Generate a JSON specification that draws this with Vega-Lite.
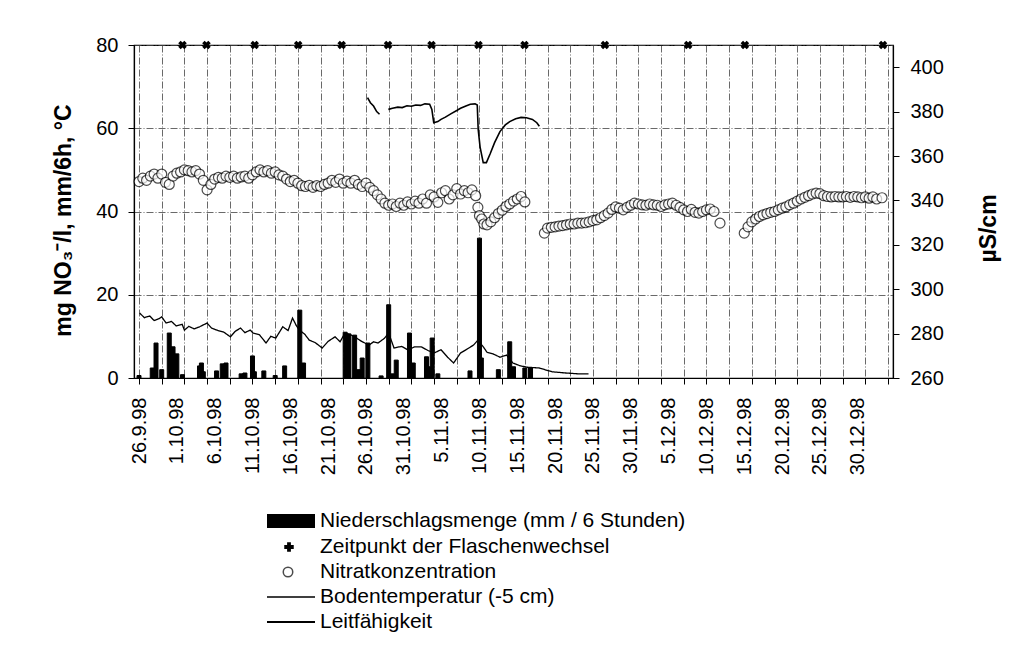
{
"$schema": "https://vega.github.io/schema/vega-lite/v6.json",
"width": 759, "height": 333,
"autosize": {"type": "none"},
"padding": {"left": 134, "top": 45, "right": 119, "bottom": 270},
"background": "white",
"config": {
 "view": {"stroke": "black", "strokeWidth": 1.2},
 "font": "Liberation Sans",
 "axis": {"labelFont": "Liberation Sans", "titleFont": "Liberation Sans", "labelColor": "black", "titleColor": "black", "domainColor": "black", "tickColor": "black", "labelFontSize": 20, "titleFontSize": 23, "titleFontWeight": "bold"},
 "legend": {"labelFont": "Liberation Sans", "labelFontSize": 21, "labelColor": "black", "labelLimit": 0, "padding": 0, "orient": "none", "direction": "vertical"}
},
"datasets": {
 "bars": [
  {"t":"1998-09-26T00:00","v":0.6},{"t":"1998-09-27T18:00","v":2.4},{"t":"1998-09-28T06:00","v":8.4},{"t":"1998-09-29T00:00","v":2.0},
  {"t":"1998-09-30T00:00","v":10.8},{"t":"1998-09-30T12:00","v":7.5},{"t":"1998-10-01T00:00","v":5.8},{"t":"1998-10-01T18:00","v":0.8},
  {"t":"1998-10-04T00:00","v":2.9},{"t":"1998-10-04T06:00","v":3.6},{"t":"1998-10-04T12:00","v":1.5},{"t":"1998-10-06T06:00","v":1.7},
  {"t":"1998-10-07T00:00","v":3.4},{"t":"1998-10-07T12:00","v":3.6},{"t":"1998-10-09T12:00","v":1.0},{"t":"1998-10-10T00:00","v":1.2},
  {"t":"1998-10-11T00:00","v":5.3},{"t":"1998-10-11T06:00","v":1.5},{"t":"1998-10-12T12:00","v":1.7},{"t":"1998-10-14T00:00","v":0.6},
  {"t":"1998-10-15T06:00","v":2.9},{"t":"1998-10-17T06:00","v":16.3},{"t":"1998-10-17T18:00","v":3.6},{"t":"1998-10-23T06:00","v":11.0},
  {"t":"1998-10-23T18:00","v":10.6},{"t":"1998-10-24T12:00","v":10.3},{"t":"1998-10-25T00:00","v":2.0},{"t":"1998-10-25T12:00","v":4.8},
  {"t":"1998-10-26T06:00","v":8.4},{"t":"1998-10-28T00:00","v":0.5},{"t":"1998-10-29T00:00","v":17.6},{"t":"1998-10-29T12:00","v":1.0},
  {"t":"1998-10-30T00:00","v":4.3},{"t":"1998-10-31T18:00","v":10.8},{"t":"1998-11-01T06:00","v":3.6},{"t":"1998-11-03T00:00","v":5.1},
  {"t":"1998-11-03T06:00","v":2.7},{"t":"1998-11-03T18:00","v":9.6},{"t":"1998-11-04T12:00","v":1.0},{"t":"1998-11-08T18:00","v":1.7},
  {"t":"1998-11-10T00:00","v":33.6},{"t":"1998-11-10T06:00","v":4.8},{"t":"1998-11-12T12:00","v":2.0},{"t":"1998-11-14T00:00","v":8.7},
  {"t":"1998-11-14T12:00","v":2.7},{"t":"1998-11-16T00:00","v":2.4},{"t":"1998-11-16T18:00","v":2.4}
 ],
 "wechsel": [
  {"t":"1998-10-01T18:00"},{"t":"1998-10-04T22:00"},{"t":"1998-10-11T07:00"},{"t":"1998-10-17T01:00"},{"t":"1998-10-22T19:00"},
  {"t":"1998-10-28T22:00"},{"t":"1998-11-03T16:00"},{"t":"1998-11-09T21:00"},{"t":"1998-11-15T23:00"},{"t":"1998-11-26T14:00"},
  {"t":"1998-12-07T14:00"},{"t":"1998-12-15T02:00"},{"t":"1999-01-02T08:00"}
 ],
 "temp": [
  {"t":"1998-09-26T02:00","v":15.6},{"t":"1998-09-26T17:00","v":14.5},{"t":"1998-09-27T10:00","v":14.9},{"t":"1998-09-28T00:00","v":13.8},
  {"t":"1998-09-28T17:00","v":14.3},{"t":"1998-09-29T00:00","v":14.7},{"t":"1998-09-29T14:00","v":13.2},{"t":"1998-09-30T07:00","v":13.6},
  {"t":"1998-09-30T22:00","v":12.5},{"t":"1998-10-01T17:00","v":12.9},{"t":"1998-10-02T00:00","v":11.5},{"t":"1998-10-02T14:00","v":12.4},
  {"t":"1998-10-03T07:00","v":11.8},{"t":"1998-10-04T00:00","v":12.3},{"t":"1998-10-05T00:00","v":13.2},{"t":"1998-10-05T14:00","v":12.0},
  {"t":"1998-10-06T07:00","v":11.5},{"t":"1998-10-07T05:00","v":11.0},{"t":"1998-10-08T02:00","v":9.9},{"t":"1998-10-08T17:00","v":11.2},
  {"t":"1998-10-09T10:00","v":12.0},{"t":"1998-10-10T00:00","v":10.9},{"t":"1998-10-10T17:00","v":11.5},{"t":"1998-10-11T02:00","v":10.8},
  {"t":"1998-10-11T22:00","v":10.4},{"t":"1998-10-12T19:00","v":8.4},{"t":"1998-10-13T10:00","v":10.0},{"t":"1998-10-14T02:00","v":9.6},
  {"t":"1998-10-15T00:00","v":12.3},{"t":"1998-10-15T17:00","v":11.4},{"t":"1998-10-16T07:00","v":14.4},{"t":"1998-10-16T19:00","v":12.6},
  {"t":"1998-10-17T05:00","v":11.5},{"t":"1998-10-17T22:00","v":10.5},{"t":"1998-10-18T12:00","v":9.1},{"t":"1998-10-19T07:00","v":8.5},
  {"t":"1998-10-20T05:00","v":7.2},{"t":"1998-10-21T00:00","v":8.8},{"t":"1998-10-21T22:00","v":9.9},{"t":"1998-10-22T14:00","v":8.7},
  {"t":"1998-10-23T05:00","v":10.8},{"t":"1998-10-23T22:00","v":10.4},{"t":"1998-10-24T12:00","v":9.9},{"t":"1998-10-25T10:00","v":8.8},
  {"t":"1998-10-26T10:00","v":7.9},{"t":"1998-10-27T00:00","v":8.7},{"t":"1998-10-27T14:00","v":8.4},{"t":"1998-10-28T10:00","v":9.5},
  {"t":"1998-10-29T00:00","v":10.8},{"t":"1998-10-29T17:00","v":7.2},{"t":"1998-10-30T17:00","v":7.6},{"t":"1998-10-31T14:00","v":6.7},
  {"t":"1998-11-01T10:00","v":7.5},{"t":"1998-11-02T07:00","v":7.5},{"t":"1998-11-03T05:00","v":6.6},{"t":"1998-11-04T00:00","v":6.0},
  {"t":"1998-11-04T22:00","v":6.8},{"t":"1998-11-05T19:00","v":5.0},{"t":"1998-11-06T14:00","v":3.6},{"t":"1998-11-07T12:00","v":6.0},
  {"t":"1998-11-08T10:00","v":7.0},{"t":"1998-11-09T05:00","v":7.9},{"t":"1998-11-09T19:00","v":9.1},{"t":"1998-11-10T12:00","v":7.5},
  {"t":"1998-11-11T00:00","v":6.2},{"t":"1998-11-11T19:00","v":5.8},{"t":"1998-11-12T17:00","v":5.0},{"t":"1998-11-13T14:00","v":5.5},
  {"t":"1998-11-14T10:00","v":3.6},{"t":"1998-11-15T07:00","v":3.0},{"t":"1998-11-16T05:00","v":2.6},{"t":"1998-11-17T22:00","v":2.4},
  {"t":"1998-11-19T14:00","v":1.5},{"t":"1998-11-21T10:00","v":1.2},{"t":"1998-11-23T02:00","v":1.0},{"t":"1998-11-24T10:00","v":1.0}
 ],
 "leit": [
  {"t":"1998-10-26T05:00","v":386.3,"s":1},{"t":"1998-10-26T14:00","v":384,"s":1},{"t":"1998-10-27T00:00","v":382.5,"s":1},{"t":"1998-10-27T10:00","v":380,"s":1},{"t":"1998-10-27T19:00","v":378.8,"s":1},
  {"t":"1998-10-28T23:00","v":381,"s":2},{"t":"1998-10-29T12:00","v":381.5,"s":2},{"t":"1998-10-30T05:00","v":382,"s":2},{"t":"1998-10-30T19:00","v":381.8,"s":2},
  {"t":"1998-10-31T10:00","v":382.6,"s":2},{"t":"1998-11-01T00:00","v":382.4,"s":2},{"t":"1998-11-01T14:00","v":383,"s":2},{"t":"1998-11-02T05:00","v":382.8,"s":2},
  {"t":"1998-11-02T19:00","v":383.5,"s":2},{"t":"1998-11-03T10:00","v":383.3,"s":2},{"t":"1998-11-03T17:00","v":381,"s":2},{"t":"1998-11-03T23:00","v":375,"s":2},
  {"t":"1998-11-04T12:00","v":375.5,"s":2},{"t":"1998-11-04T22:00","v":376.5,"s":2},{"t":"1998-11-05T12:00","v":377.5,"s":2},{"t":"1998-11-06T05:00","v":379,"s":2},
  {"t":"1998-11-07T00:00","v":380.5,"s":2},{"t":"1998-11-07T12:00","v":381.5,"s":2},{"t":"1998-11-08T05:00","v":382.5,"s":2},{"t":"1998-11-08T19:00","v":383.3,"s":2},
  {"t":"1998-11-09T10:00","v":383.5,"s":2},{"t":"1998-11-09T17:00","v":383,"s":2},{"t":"1998-11-09T20:00","v":372,"s":2},{"t":"1998-11-10T02:00","v":364,"s":2},
  {"t":"1998-11-10T12:00","v":357,"s":2},{"t":"1998-11-10T22:00","v":357,"s":2},{"t":"1998-11-11T10:00","v":361,"s":2},{"t":"1998-11-12T00:00","v":366,"s":2},
  {"t":"1998-11-12T17:00","v":371,"s":2},{"t":"1998-11-13T10:00","v":374,"s":2},{"t":"1998-11-14T00:00","v":375.5,"s":2},{"t":"1998-11-14T19:00","v":376.8,"s":2},
  {"t":"1998-11-15T12:00","v":377.4,"s":2},{"t":"1998-11-16T05:00","v":377.2,"s":2},{"t":"1998-11-17T00:00","v":376.5,"s":2},{"t":"1998-11-17T14:00","v":375,"s":2},
  {"t":"1998-11-17T22:00","v":373.4,"s":2}
 ],
 "nitrat": [
  {"t":"1998-09-26T00:00","v":47.2},{"t":"1998-09-26T12:00","v":48},{"t":"1998-09-27T00:00","v":47.5},{"t":"1998-09-27T12:00","v":48.5},
  {"t":"1998-09-28T00:00","v":49},{"t":"1998-09-28T12:00","v":48},{"t":"1998-09-29T00:00","v":49},{"t":"1998-09-29T12:00","v":47},
  {"t":"1998-09-30T00:00","v":46.5},{"t":"1998-09-30T12:00","v":48.5},{"t":"1998-10-01T00:00","v":49.2},{"t":"1998-10-01T12:00","v":49.5},
  {"t":"1998-10-02T00:00","v":50},{"t":"1998-10-02T12:00","v":49.8},{"t":"1998-10-03T00:00","v":49.5},{"t":"1998-10-03T12:00","v":49.8},
  {"t":"1998-10-04T00:00","v":49},{"t":"1998-10-04T12:00","v":47.5},{"t":"1998-10-05T00:00","v":45.2},{"t":"1998-10-05T12:00","v":46.5},
  {"t":"1998-10-06T00:00","v":47.8},{"t":"1998-10-06T12:00","v":48.2},{"t":"1998-10-07T00:00","v":48},{"t":"1998-10-07T12:00","v":48.5},
  {"t":"1998-10-08T00:00","v":48.2},{"t":"1998-10-08T12:00","v":48.5},{"t":"1998-10-09T00:00","v":48},{"t":"1998-10-09T12:00","v":48.3},
  {"t":"1998-10-10T00:00","v":48.5},{"t":"1998-10-10T12:00","v":48},{"t":"1998-10-11T00:00","v":48.8},{"t":"1998-10-11T12:00","v":49.5},
  {"t":"1998-10-12T00:00","v":50},{"t":"1998-10-12T12:00","v":49.5},{"t":"1998-10-13T00:00","v":49.8},{"t":"1998-10-13T12:00","v":49.2},
  {"t":"1998-10-14T00:00","v":49.5},{"t":"1998-10-14T12:00","v":48.8},{"t":"1998-10-15T00:00","v":48.5},{"t":"1998-10-15T12:00","v":47.8},
  {"t":"1998-10-16T00:00","v":47.2},{"t":"1998-10-16T12:00","v":47.5},{"t":"1998-10-17T00:00","v":46.8},{"t":"1998-10-17T12:00","v":46.2},
  {"t":"1998-10-18T00:00","v":46},{"t":"1998-10-18T12:00","v":46.3},{"t":"1998-10-19T00:00","v":45.8},{"t":"1998-10-19T12:00","v":46.2},
  {"t":"1998-10-20T00:00","v":46},{"t":"1998-10-20T12:00","v":46.5},{"t":"1998-10-21T00:00","v":46.8},{"t":"1998-10-21T12:00","v":47.5},
  {"t":"1998-10-22T00:00","v":47},{"t":"1998-10-22T12:00","v":47.8},{"t":"1998-10-23T00:00","v":46.8},{"t":"1998-10-23T12:00","v":47.3},
  {"t":"1998-10-24T00:00","v":46.8},{"t":"1998-10-24T12:00","v":47.5},{"t":"1998-10-25T00:00","v":46.5},{"t":"1998-10-25T12:00","v":46},
  {"t":"1998-10-26T00:00","v":46.8},{"t":"1998-10-26T12:00","v":45.8},{"t":"1998-10-27T00:00","v":45},{"t":"1998-10-27T12:00","v":44},
  {"t":"1998-10-28T00:00","v":43},{"t":"1998-10-28T12:00","v":42},{"t":"1998-10-29T00:00","v":41.5},{"t":"1998-10-29T12:00","v":41.8},
  {"t":"1998-10-30T00:00","v":41.2},{"t":"1998-10-30T12:00","v":42},{"t":"1998-10-31T00:00","v":41.5},{"t":"1998-10-31T12:00","v":42.3},
  {"t":"1998-11-01T00:00","v":41.8},{"t":"1998-11-01T12:00","v":42.5},{"t":"1998-11-02T00:00","v":42},{"t":"1998-11-02T12:00","v":43},
  {"t":"1998-11-03T00:00","v":42},{"t":"1998-11-03T12:00","v":44},{"t":"1998-11-04T00:00","v":43.5},{"t":"1998-11-04T12:00","v":42.2},
  {"t":"1998-11-05T00:00","v":44.5},{"t":"1998-11-05T12:00","v":45},{"t":"1998-11-06T00:00","v":43},{"t":"1998-11-06T12:00","v":44},
  {"t":"1998-11-07T00:00","v":45.5},{"t":"1998-11-07T12:00","v":44.2},{"t":"1998-11-08T00:00","v":45},{"t":"1998-11-08T12:00","v":44.5},
  {"t":"1998-11-09T00:00","v":45.2},{"t":"1998-11-09T12:00","v":43.8},{"t":"1998-11-09T19:00","v":41},{"t":"1998-11-10T00:00","v":39},
  {"t":"1998-11-10T07:00","v":38.2},{"t":"1998-11-10T14:00","v":37},{"t":"1998-11-11T00:00","v":36.8},{"t":"1998-11-11T12:00","v":37.5},
  {"t":"1998-11-12T00:00","v":38.5},{"t":"1998-11-12T12:00","v":39.5},{"t":"1998-11-13T00:00","v":40.3},{"t":"1998-11-13T12:00","v":41.2},
  {"t":"1998-11-14T00:00","v":41.8},{"t":"1998-11-14T12:00","v":42.5},{"t":"1998-11-15T00:00","v":43},{"t":"1998-11-15T12:00","v":43.6},
  {"t":"1998-11-16T00:00","v":42.3},
  {"t":"1998-11-18T14:00","v":34.8},{"t":"1998-11-19T00:00","v":36},{"t":"1998-11-19T12:00","v":36.2},{"t":"1998-11-20T00:00","v":36.3},
  {"t":"1998-11-20T12:00","v":36.5},{"t":"1998-11-21T00:00","v":36.6},{"t":"1998-11-21T12:00","v":36.8},{"t":"1998-11-22T00:00","v":37},
  {"t":"1998-11-22T12:00","v":37},{"t":"1998-11-23T00:00","v":37.2},{"t":"1998-11-23T12:00","v":37.2},{"t":"1998-11-24T00:00","v":37.3},
  {"t":"1998-11-24T12:00","v":37.5},{"t":"1998-11-25T00:00","v":37.8},{"t":"1998-11-25T12:00","v":38},{"t":"1998-11-26T00:00","v":38.5},
  {"t":"1998-11-26T12:00","v":39},{"t":"1998-11-27T00:00","v":39.6},{"t":"1998-11-27T12:00","v":40.5},{"t":"1998-11-28T00:00","v":41.1},
  {"t":"1998-11-28T12:00","v":40.8},{"t":"1998-11-29T00:00","v":40.4},{"t":"1998-11-29T12:00","v":41},{"t":"1998-11-30T00:00","v":41.5},
  {"t":"1998-11-30T12:00","v":42},{"t":"1998-12-01T00:00","v":41.8},{"t":"1998-12-01T12:00","v":41.6},{"t":"1998-12-02T00:00","v":41.5},
  {"t":"1998-12-02T12:00","v":41.8},{"t":"1998-12-03T00:00","v":41.6},{"t":"1998-12-03T12:00","v":41.5},{"t":"1998-12-04T00:00","v":41.2},
  {"t":"1998-12-04T12:00","v":41.6},{"t":"1998-12-05T00:00","v":41.8},{"t":"1998-12-05T12:00","v":42},{"t":"1998-12-06T00:00","v":41.5},
  {"t":"1998-12-06T12:00","v":41},{"t":"1998-12-07T00:00","v":40.4},{"t":"1998-12-07T12:00","v":40},{"t":"1998-12-08T00:00","v":40.5},
  {"t":"1998-12-08T12:00","v":39.8},{"t":"1998-12-09T00:00","v":39.6},{"t":"1998-12-09T12:00","v":40},{"t":"1998-12-10T00:00","v":40.4},
  {"t":"1998-12-10T12:00","v":40.6},{"t":"1998-12-11T00:00","v":40},{"t":"1998-12-11T19:00","v":37.2},
  {"t":"1998-12-15T00:00","v":34.8},{"t":"1998-12-15T12:00","v":36.3},{"t":"1998-12-16T00:00","v":37.5},{"t":"1998-12-16T12:00","v":38.2},
  {"t":"1998-12-17T00:00","v":38.8},{"t":"1998-12-17T12:00","v":39.2},{"t":"1998-12-18T00:00","v":39.5},{"t":"1998-12-18T12:00","v":39.8},
  {"t":"1998-12-19T00:00","v":40},{"t":"1998-12-19T12:00","v":40.4},{"t":"1998-12-20T00:00","v":40.8},{"t":"1998-12-20T12:00","v":41.1},
  {"t":"1998-12-21T00:00","v":41.6},{"t":"1998-12-21T12:00","v":42},{"t":"1998-12-22T00:00","v":42.5},{"t":"1998-12-22T12:00","v":43},
  {"t":"1998-12-23T00:00","v":43.4},{"t":"1998-12-23T12:00","v":43.8},{"t":"1998-12-24T00:00","v":44.2},{"t":"1998-12-24T12:00","v":44.4},
  {"t":"1998-12-25T00:00","v":44.3},{"t":"1998-12-25T12:00","v":43.8},{"t":"1998-12-26T00:00","v":43.6},{"t":"1998-12-26T12:00","v":43.5},
  {"t":"1998-12-27T00:00","v":43.6},{"t":"1998-12-27T12:00","v":43.5},{"t":"1998-12-28T00:00","v":43.5},{"t":"1998-12-28T12:00","v":43.6},
  {"t":"1998-12-29T00:00","v":43.4},{"t":"1998-12-29T12:00","v":43.6},{"t":"1998-12-30T00:00","v":43.5},{"t":"1998-12-30T12:00","v":43.3},
  {"t":"1998-12-31T00:00","v":43.5},{"t":"1998-12-31T12:00","v":43.2},{"t":"1999-01-01T00:00","v":43.5},{"t":"1999-01-01T12:00","v":43},
  {"t":"1999-01-02T05:00","v":43.3}
 ]
},
"layer": [
 {
  "data": {"name": "bars"},
  "mark": {"type": "bar", "color": "black", "size": 4},
  "encoding": {
   "x": {"field": "t", "type": "temporal", "scale": {"domain": ["1998-09-26T00:00", "1999-01-03T00:00"], "nice": false},
    "axis": {"orient": "bottom", "title": null, "labels": false, "ticks": true, "tickSize": 6, "tickWidth": 1, "domain": true, "domainWidth": 1.2,
     "grid": true, "gridColor": "#444", "gridDash": [7, 2, 1, 2], "gridWidth": 1, "gridOpacity": 0.8,
     "values": [{"year":1998,"month":9,"date":26},{"year":1998,"month":9,"date":29},{"year":1998,"month":10,"date":2},{"year":1998,"month":10,"date":5},{"year":1998,"month":10,"date":8},{"year":1998,"month":10,"date":11},{"year":1998,"month":10,"date":14},{"year":1998,"month":10,"date":17},{"year":1998,"month":10,"date":20},{"year":1998,"month":10,"date":23},{"year":1998,"month":10,"date":26},{"year":1998,"month":10,"date":29},{"year":1998,"month":11,"date":1},{"year":1998,"month":11,"date":4},{"year":1998,"month":11,"date":7},{"year":1998,"month":11,"date":10},{"year":1998,"month":11,"date":13},{"year":1998,"month":11,"date":16},{"year":1998,"month":11,"date":19},{"year":1998,"month":11,"date":22},{"year":1998,"month":11,"date":25},{"year":1998,"month":11,"date":28},{"year":1998,"month":12,"date":1},{"year":1998,"month":12,"date":4},{"year":1998,"month":12,"date":7},{"year":1998,"month":12,"date":10},{"year":1998,"month":12,"date":13},{"year":1998,"month":12,"date":16},{"year":1998,"month":12,"date":19},{"year":1998,"month":12,"date":22},{"year":1998,"month":12,"date":25},{"year":1998,"month":12,"date":28},{"year":1998,"month":12,"date":31},{"year":1999,"month":1,"date":3}]}},
   "y": {"field": "v", "type": "quantitative", "scale": {"domain": [0, 80], "nice": false},
    "axis": {"orient": "left", "title": "mg NO₃⁻/l, mm/6h, °C", "values": [0, 20, 40, 60, 80], "tickSize": 6, "labelPadding": 10, "titlePadding": 20, "titleY": 175,
     "grid": true, "gridColor": "#444", "gridDash": [7, 2, 1, 2], "gridWidth": 1, "gridOpacity": 0.8, "domainWidth": 1.2}},
   "stroke": {"datum": "Niederschlagsmenge (mm / 6 Stunden)", "type": "nominal", "scale": {"range": ["black"]},
    "legend": {"orient": "none", "legendX": 126, "legendY": 445, "title": null, "symbolType": "stroke", "symbolSize": 2304, "symbolStrokeWidth": 14, "symbolStrokeColor": "black", "labelOffset": -2}}
  }
 },
 {
  "data": {"name": "temp"},
  "mark": {"type": "line", "color": "black", "strokeWidth": 1.3},
  "encoding": {
   "x": {"field": "t", "type": "temporal", "scale": {"domain": ["1998-09-26T00:00", "1999-01-03T00:00"], "nice": false},
    "axis": {"orient": "bottom", "title": null, "ticks": false, "domain": false, "grid": false, "labelAngle": 270, "labelPadding": 19, "labelFontSize": 20, "labelFlush": false, "labelOverlap": false, "labelBound": false, "format": "%-d.%-m.%y",
     "values": [{"year":1998,"month":9,"date":26},{"year":1998,"month":10,"date":1},{"year":1998,"month":10,"date":6},{"year":1998,"month":10,"date":11},{"year":1998,"month":10,"date":16},{"year":1998,"month":10,"date":21},{"year":1998,"month":10,"date":26},{"year":1998,"month":10,"date":31},{"year":1998,"month":11,"date":5},{"year":1998,"month":11,"date":10},{"year":1998,"month":11,"date":15},{"year":1998,"month":11,"date":20},{"year":1998,"month":11,"date":25},{"year":1998,"month":11,"date":30},{"year":1998,"month":12,"date":5},{"year":1998,"month":12,"date":10},{"year":1998,"month":12,"date":15},{"year":1998,"month":12,"date":20},{"year":1998,"month":12,"date":25},{"year":1998,"month":12,"date":30}]}},
   "y": {"field": "v", "type": "quantitative", "scale": {"domain": [0, 80], "nice": false}, "axis": null},
   "strokeDash": {"datum": "Bodentemperatur (-5 cm)", "type": "nominal", "scale": {"range": [[1, 0]]},
    "legend": {"orient": "none", "legendX": 132, "legendY": 527, "title": null, "symbolType": "stroke", "symbolSize": 2304, "symbolStrokeWidth": 1.5, "symbolStrokeColor": "black", "labelOffset": 4}}
  }
 },
 {
  "data": {"name": "leit"},
  "mark": {"type": "line", "strokeWidth": 1.6},
  "encoding": {
   "x": {"field": "t", "type": "temporal", "scale": {"domain": ["1998-09-26T00:00", "1999-01-03T00:00"], "nice": false}, "axis": null},
   "y": {"field": "v", "type": "quantitative", "scale": {"domain": [260, 410], "nice": false, "zero": false},
    "axis": {"orient": "right", "title": "µS/cm", "values": [260, 280, 300, 320, 340, 360, 380, 400], "tickSize": 6, "labelPadding": 11, "titleAngle": 270, "titleBaseline": "top", "titlePadding": 34, "titleY": 183, "grid": false, "domainWidth": 1.2}},
   "detail": {"field": "s", "type": "nominal"},
   "color": {"datum": "Leitfähigkeit", "type": "nominal", "scale": {"range": ["black"]},
    "legend": {"orient": "none", "legendX": 132, "legendY": 552, "title": null, "symbolType": "stroke", "symbolSize": 2304, "symbolStrokeWidth": 1.8, "labelOffset": 4}}
  }
 },
 {
  "data": {"name": "nitrat"},
  "mark": {"type": "point", "shape": "circle", "filled": true, "stroke": "black", "strokeWidth": 1.2, "size": 100},
  "encoding": {
   "x": {"field": "t", "type": "temporal", "scale": {"domain": ["1998-09-26T00:00", "1999-01-03T00:00"], "nice": false}, "axis": null},
   "y": {"field": "v", "type": "quantitative", "scale": {"domain": [0, 80], "nice": false}, "axis": null},
   "fill": {"datum": "Nitratkonzentration", "type": "nominal", "scale": {"range": ["white"]},
    "legend": {"orient": "none", "legendX": 143.5, "legendY": 516.5, "title": null, "symbolType": "circle", "symbolSize": 90, "symbolStrokeWidth": 1.5, "symbolStrokeColor": "black", "labelOffset": 21.5}}
  }
 },
 {
  "data": {"name": "wechsel"},
  "mark": {"type": "point", "filled": true, "color": "black", "size": 75, "angle": 45, "opacity": 1},
  "encoding": {
   "x": {"field": "t", "type": "temporal", "scale": {"domain": ["1998-09-26T00:00", "1999-01-03T00:00"], "nice": false}, "axis": null},
   "y": {"datum": 80, "type": "quantitative", "scale": {"domain": [0, 80], "nice": false}, "axis": null},
   "shape": {"datum": "Zeitpunkt der Flaschenwechsel", "type": "nominal", "scale": {"range": ["cross"]},
    "legend": {"orient": "none", "legendX": 144.5, "legendY": 491.5, "title": null, "symbolSize": 90, "symbolStrokeWidth": 0, "symbolFillColor": "black", "labelOffset": 20.5}}
  }
 }
],
"resolve": {"scale": {"y": "independent"}, "axis": {"x": "independent"}}
}
